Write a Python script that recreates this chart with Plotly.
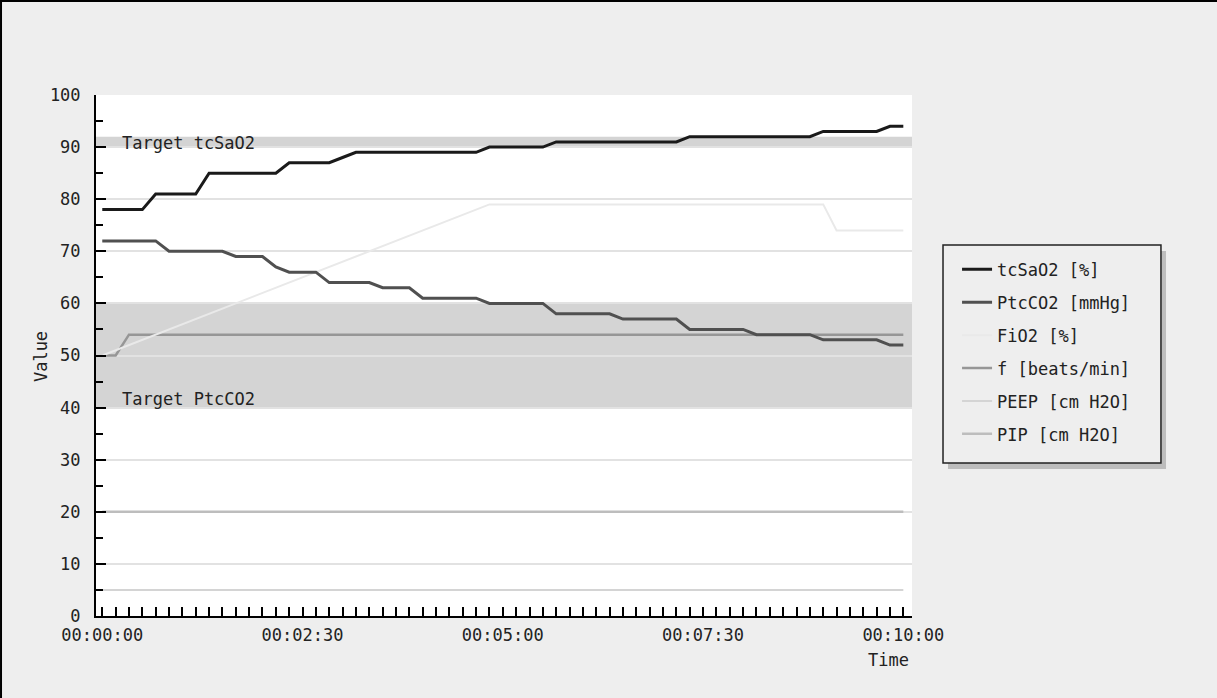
import plotly.graph_objects as go

# ---------------- data (seconds from start) ----------------
tick_vals = [0, 150, 300, 450, 600]
tick_labels = ["00:00:00", "00:02:30", "00:05:00", "00:07:30", "00:10:00"]

tcsao2_t = [0, 30, 40, 70, 80, 130, 140, 170, 180, 190, 280, 290, 330, 340, 430, 440, 530, 540, 580, 590, 600]
tcsao2_v = [78, 78, 81, 81, 85, 85, 87, 87, 88, 89, 89, 90, 90, 91, 91, 92, 92, 93, 93, 94, 94]

ptcco2_t = [0, 40, 50, 90, 100, 120, 130, 140, 160, 170, 200, 210, 230, 240, 280, 290, 330, 340,
            380, 390, 430, 440, 480, 490, 530, 540, 580, 590, 600]
ptcco2_v = [72, 72, 70, 70, 69, 69, 67, 66, 66, 64, 64, 63, 63, 61, 61, 60, 60, 58,
            58, 57, 57, 55, 55, 54, 54, 53, 53, 52, 52]

fio2_t = [0, 290, 540, 550, 600]
fio2_v = [50, 79, 79, 74, 74]

f_t = [0, 10, 20, 600]
f_v = [50, 50, 54, 54]

peep_t = [0, 600]
peep_v = [5, 5]

pip_t = [0, 600]
pip_v = [20, 20]

target_sao2 = [90, 92]
target_co2 = [40, 60]

series_names = ["tcSaO2 [%]", "PtcCO2 [mmHg]", "FiO2 [%]", "f [beats/min]", "PEEP [cm H2O]", "PIP [cm H2O]"]
series_colors = ["#1a1a1a", "#505050", "#e9e9e9", "#969696", "#d4d4d4", "#bdbdbd"]
series_widths = [3, 3, 2, 2.5, 2, 2.5]
series_x = [tcsao2_t, ptcco2_t, fio2_t, f_t, peep_t, pip_t]
series_y = [tcsao2_v, ptcco2_v, fio2_v, f_v, peep_v, pip_v]

FONT = "DejaVu Sans Mono"
FS = 17

fig = go.Figure()

# draw in reverse order so the first series sits on top; legend order set by legendrank
for i in reversed(range(len(series_names))):
    fig.add_trace(go.Scatter(
        x=series_x[i], y=series_y[i], mode="lines", name=series_names[i],
        line=dict(color=series_colors[i], width=series_widths[i]),
        legendrank=i + 1, legendgroup="g%d" % i,
    ))

# target bands
for lo_hi in (target_sao2, target_co2):
    fig.add_shape(type="rect", xref="paper", yref="y", x0=0, x1=1, y0=lo_hi[0], y1=lo_hi[1],
                  fillcolor="#d4d4d4", line=dict(width=0), layer="below")

fig.add_annotation(x=13.3, y=90.8, xref="x", yref="y", text="Target tcSaO2", showarrow=False,
                   xanchor="left", yanchor="middle", font=dict(family=FONT, size=FS, color="#222"))
fig.add_annotation(x=13.3, y=41.7, xref="x", yref="y", text="Target PtcCO2", showarrow=False,
                   xanchor="left", yanchor="middle", font=dict(family=FONT, size=FS, color="#222"))

# axis titles
fig.add_annotation(x=-0.0674, y=0.497, xref="paper", yref="paper", text="Value", textangle=-90,
                   showarrow=False, xanchor="center", yanchor="middle",
                   font=dict(family=FONT, size=FS, color="#222"))
fig.add_annotation(x=0.9706, y=-0.0845, xref="paper", yref="paper", text="Time",
                   showarrow=False, xanchor="center", yanchor="middle",
                   font=dict(family=FONT, size=FS, color="#222"))

# legend box + shadow
fig.add_shape(type="rect", xref="paper", yref="paper", x0=1.0441, x1=1.3113, y0=0.2821, y1=0.7006,
              fillcolor="#bdbdbd", line=dict(width=0), layer="below")
fig.add_shape(type="rect", xref="paper", yref="paper", x0=1.0380, x1=1.3051, y0=0.2937, y1=0.7121,
              fillcolor="#eeeeee", line=dict(color="#222", width=1.5), layer="below")

# frame on top / left edge of the image
fig.add_shape(type="line", xref="paper", yref="paper", x0=-0.2, x1=1.45, y0=1.1804, y1=1.1804,
              line=dict(color="black", width=2))
fig.add_shape(type="line", xref="paper", yref="paper", x0=-0.1164, x1=-0.1164, y0=-0.2, y1=1.19,
              line=dict(color="black", width=2))

fig.update_layout(
    width=1217, height=698,
    margin=dict(l=96, r=305, t=95, b=82),
    paper_bgcolor="#eeeeee", plot_bgcolor="white",
    font=dict(family=FONT, size=FS, color="#222"),
    showlegend=True,
    legend=dict(x=1.0552, y=0.699, xanchor="left", yanchor="top",
                bgcolor="rgba(0,0,0,0)", borderwidth=0,
                traceorder="grouped", tracegroupgap=7.8,
                font=dict(family=FONT, size=FS, color="#222")),
    xaxis=dict(range=[-4.7, 606.5], tickmode="array", tickvals=tick_vals, ticktext=tick_labels,
               showline=True, linecolor="black", linewidth=2,
               ticks="inside", ticklen=9, tickwidth=2, tickcolor="black",
               minor=dict(dtick=10, tick0=0, ticks="inside", ticklen=9, tickwidth=2, tickcolor="black",
                          showgrid=False),
               showgrid=False, zeroline=False, ticklabelstandoff=3),
    yaxis=dict(range=[0, 100], dtick=10, tick0=0,
               showline=True, linecolor="black", linewidth=2,
               ticks="inside", ticklen=10, tickwidth=2, tickcolor="black",
               minor=dict(dtick=5, tick0=0, ticks="inside", ticklen=7, tickwidth=2, tickcolor="black",
                          showgrid=False),
               showgrid=True, gridcolor="#e2e2e2", gridwidth=2, zeroline=False,
               ticklabelstandoff=10),
)

fig.write_html("out.html", config={"displayModeBar": False},
               post_script="document.body.style.margin='0';document.body.style.overflow='hidden';")
